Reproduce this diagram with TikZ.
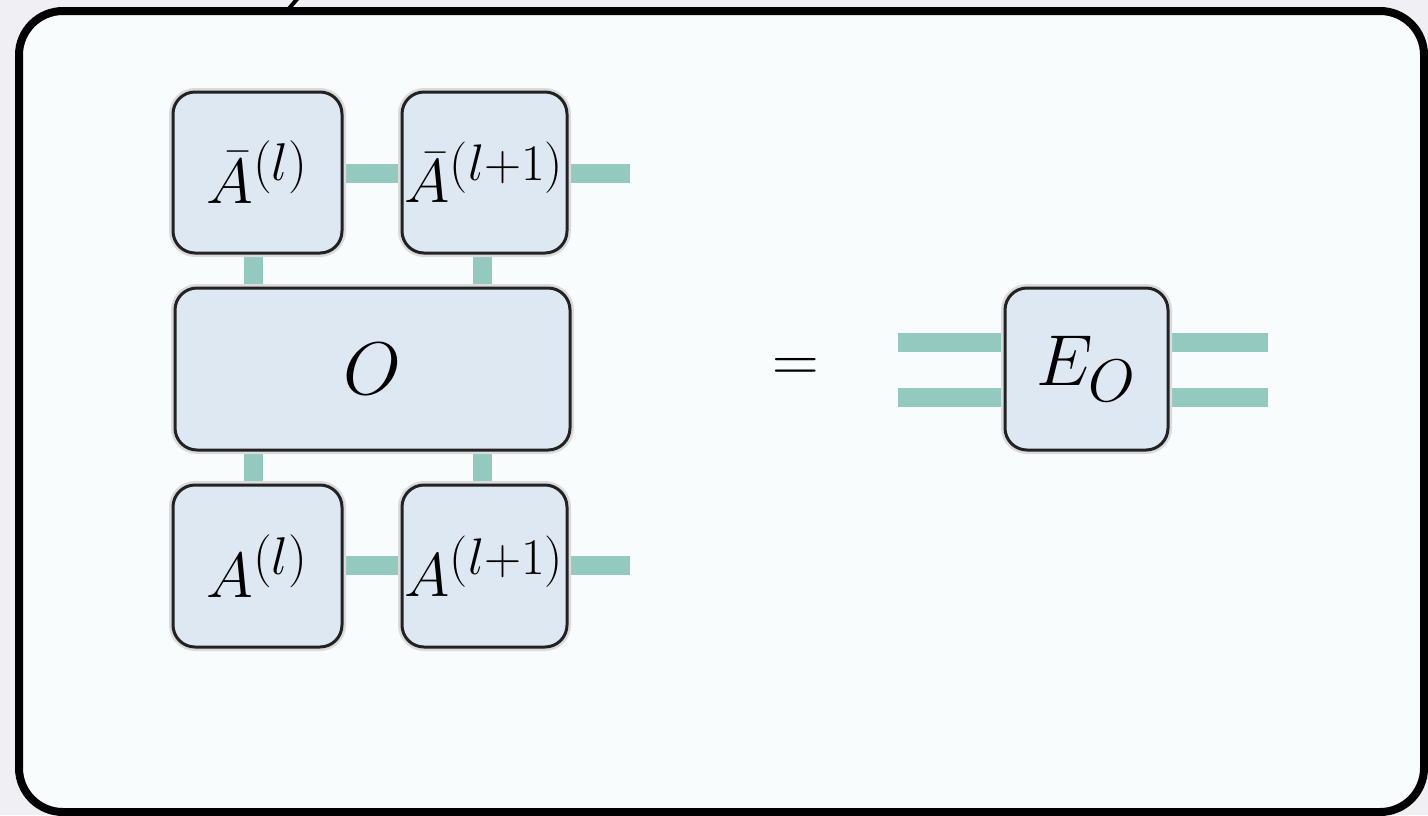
\documentclass[tikz,border=0pt]{standalone}
\usepackage{graphicx}
\usetikzlibrary{positioning}
\definecolor{outerbg}{RGB}{240,240,244}
\definecolor{innerbg}{RGB}{248,252,253}
\definecolor{boxfill}{RGB}{222,232,243}
\definecolor{bondcol}{RGB}{148,201,192}
\definecolor{boxline}{RGB}{34,34,34}
\newcommand{\sclab}[2]{\scalebox{#1}{$#2$}}
\pgfdeclarelayer{back}
\pgfdeclarelayer{bonds}
\pgfsetlayers{back,bonds,main}
\begin{document}
\begin{tikzpicture}[x=0.5pt,y=-0.5pt,
  tbox/.style={draw=boxline, line width=1.5pt, fill=boxfill, rounded corners=11pt,
    inner sep=0pt, font=\fontsize{24.88}{30}\selectfont,
    preaction={draw=black!14, line width=4pt}},
  bond/.style={draw=bondcol, line width=9.5pt, line cap=butt},
  frame/.style={draw=black, line width=4pt, fill=innerbg, rounded corners=22pt}]
\useasboundingbox (0,0) rectangle (1428,815);
\begin{pgfonlayer}{back}
\fill[outerbg] (0,0) rectangle (1428,815);
\draw[frame] (19,11) rectangle (1424,812);
\draw[black, line width=2pt] (298,-2) -- (286,12);
\end{pgfonlayer}
% boxes
\node[tbox, minimum width=84.5pt, minimum height=80.5pt] (Abl) at (257.5,172.5) {\sclab{1.28}{\bar{A}^{(l)}}};
\node[tbox, minimum width=82.5pt, minimum height=80.5pt] (Abl1) at (484.5,172.5) {\sclab{1.24}{\bar{A}^{(l+1)}}};
\node[tbox, minimum width=197.5pt, minimum height=81pt] (O) at (372.5,369) {\sclab{1.5}{O}};
\node[tbox, minimum width=84.5pt, minimum height=81pt] (Al) at (257.5,566) {\sclab{1.28}{A^{(l)}}};
\node[tbox, minimum width=82.5pt, minimum height=81pt] (Al1) at (484.5,566) {\sclab{1.24}{A^{(l+1)}}};
\node[tbox, minimum width=81.5pt, minimum height=81pt] (E) at (1086.5,369) {\sclab{1.45}{E_O}};
\node[font=\fontsize{24.88}{30}\selectfont] (eq) at (796,370) {\sclab{1.3}{=}};
% free ends
\coordinate (tr) at (630,173);
\coordinate (br) at (630,565);
\coordinate (eul) at (898,342);
\coordinate (ell) at (898,397);
\coordinate (eur) at (1268,342);
\coordinate (elr) at (1268,397);
\begin{pgfonlayer}{bonds}
\draw[bond] (Abl.center |- tr) -- (Abl1.center |- tr);
\draw[bond] (Abl1.center |- tr) -- (tr);
\draw[bond] (Al.center |- br) -- (Al1.center |- br);
\draw[bond] (Al1.center |- br) -- (br);
\draw[bond] ([xshift=-2pt]Abl.center) -- ([xshift=-2pt]O.center -| Abl.center);
\draw[bond] ([xshift=-1pt]Abl1.center) -- ([xshift=-1pt]O.center -| Abl1.center);
\draw[bond] ([xshift=-2pt]Al.center) -- ([xshift=-2pt]O.center -| Al.center);
\draw[bond] ([xshift=-1pt]Al1.center) -- ([xshift=-1pt]O.center -| Al1.center);
\draw[bond] (eul) -- (eur);
\draw[bond] (ell) -- (elr);
\end{pgfonlayer}
\end{tikzpicture}
\end{document}
